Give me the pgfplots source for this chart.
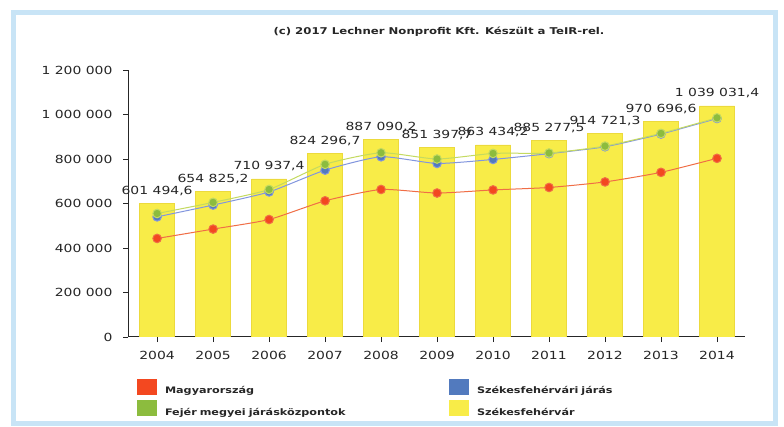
\documentclass[border=0pt]{standalone}
\usepackage{pgfplots}
\pgfplotsset{compat=1.18}
\usepackage{fontspec}
\setmainfont{DejaVu Sans}[FakeStretch=1.25]
\definecolor{barY}{RGB}{248,236,72}
\definecolor{barE}{RGB}{236,218,60}
\definecolor{mRed}{RGB}{243,72,32}
\definecolor{lRed}{RGB}{240,110,70}
\definecolor{mGreen}{RGB}{140,188,62}
\definecolor{lGreen}{RGB}{196,218,96}
\definecolor{mBlue}{RGB}{82,122,190}
\definecolor{lBlue}{RGB}{130,150,222}
\definecolor{frameB}{RGB}{200,228,246}
\begin{document}
\begin{tikzpicture}
\useasboundingbox (0,0) rectangle (784bp,427bp);
\fill[white] (0,0) rectangle (784bp,427bp);
\draw[frameB, line width=5bp] (13bp,414.5bp) rectangle (775.5bp,3.5bp);
\begin{axis}[
  at={(128bp,90bp)}, anchor=south west,
  scale only axis, width=617bp, height=267bp,
  xmin=2003.48, xmax=2014.5, ymin=0, ymax=1200000,
  scaled y ticks=false,
  axis lines=left, axis line style={-, black!85, line width=1bp},
  tick align=outside, major tick length=5bp,
  every tick/.style={black!85, line width=0.9bp},
  xtick={2004,...,2014},
  xticklabels={2004,2005,2006,2007,2008,2009,2010,2011,2012,2013,2014},
  ytick={0,200000,400000,600000,800000,1000000,1200000},
  yticklabels={0,200 000,400 000,600 000,800 000,1 000 000,1 200 000},
  tick label style={font=\fontsize{11.2}{13}\selectfont, text=black!85},
  yticklabel style={xshift=-7bp},
  xticklabel style={yshift=-6bp},
  title={(c) 2017 Lechner Nonprofit Kft. Készült a TeIR-rel.},
  title style={at={(axis description cs:0.504,1.12)}, anchor=center,
    font=\bfseries\fontsize{9.4}{11}\selectfont, text=black!85},
  legend columns=2,
  legend cell align=left,
  legend style={at={(axis description cs:0.0146,-0.157)}, anchor=north west,
    draw=none, fill=none, inner sep=0pt, outer sep=0pt, row sep=5bp,
    font=\bfseries\fontsize{9}{10}\selectfont, text=black!85,
    nodes={inner sep=0pt, text width=284bp, align=left},
    /tikz/column 1/.style={column sep=8bp},
    /tikz/column 3/.style={column sep=8bp}},
  legend image code/.code={\fill[draw=none,#1] (0bp,-4bp) rectangle (20bp,12bp);},
]
\addlegendimage{fill=mRed, draw=none}
\addlegendentry{Magyarország}
\addlegendimage{fill=mBlue, draw=none}
\addlegendentry{Székesfehérvári járás}
\addlegendimage{fill=mGreen, draw=none}
\addlegendentry{Fejér megyei járásközpontok}
\addlegendimage{fill=barY, draw=none}
\addlegendentry{Székesfehérvár}

\addplot[ybar, bar width=35bp, fill=barY, draw=barE, line width=0.6bp, forget plot,
  point meta=explicit symbolic, nodes near coords,
  every node near coord/.append style={anchor=base, yshift=9bp, inner sep=0pt,
    font=\fontsize{11.2}{13}\selectfont, text=black!85}]
coordinates {
 (2004,601494.6) [601 494,6]
 (2005,654825.2) [654 825,2]
 (2006,710937.4) [710 937,4]
 (2007,824296.7) [824 296,7]
 (2008,887090.2) [887 090,2]
 (2009,851397.7) [851 397,7]
 (2010,863434.2) [863 434,2]
 (2011,885277.5) [885 277,5]
 (2012,914721.3) [914 721,3]
 (2013,970696.6) [970 696,6]
 (2014,1039031.4) [1 039 031,4]
};

\addplot[lRed, line width=1bp, smooth, tension=0.35, forget plot,
  mark=*, mark size=4.3bp, mark options={fill=mRed, draw=none}]
coordinates {
 (2004,443000) (2005,485000) (2006,528000) (2007,612000) (2008,663000)
 (2009,647000) (2010,661000) (2011,672000) (2012,697000) (2013,740000)
 (2014,803000)
};
\addplot[lBlue, line width=1bp, smooth, tension=0.35, forget plot,
  mark=*, mark size=4.3bp, mark options={fill=mBlue, draw=none}]
coordinates {
 (2004,540000) (2005,593000) (2006,652000) (2007,750000) (2008,810000)
 (2009,780000) (2010,798000) (2011,824000) (2012,855000) (2013,912000)
 (2014,982000)
};
\addplot[lGreen, line width=1bp, smooth, tension=0.35, forget plot,
  mark=*, mark size=4.3bp, mark options={fill=mGreen, draw=none}]
coordinates {
 (2004,555000) (2005,605000) (2006,663000) (2007,776000) (2008,828000)
 (2009,800000) (2010,825000) (2011,827000) (2012,858000) (2013,915000)
 (2014,985000)
};
\end{axis}
\end{tikzpicture}
\end{document}
